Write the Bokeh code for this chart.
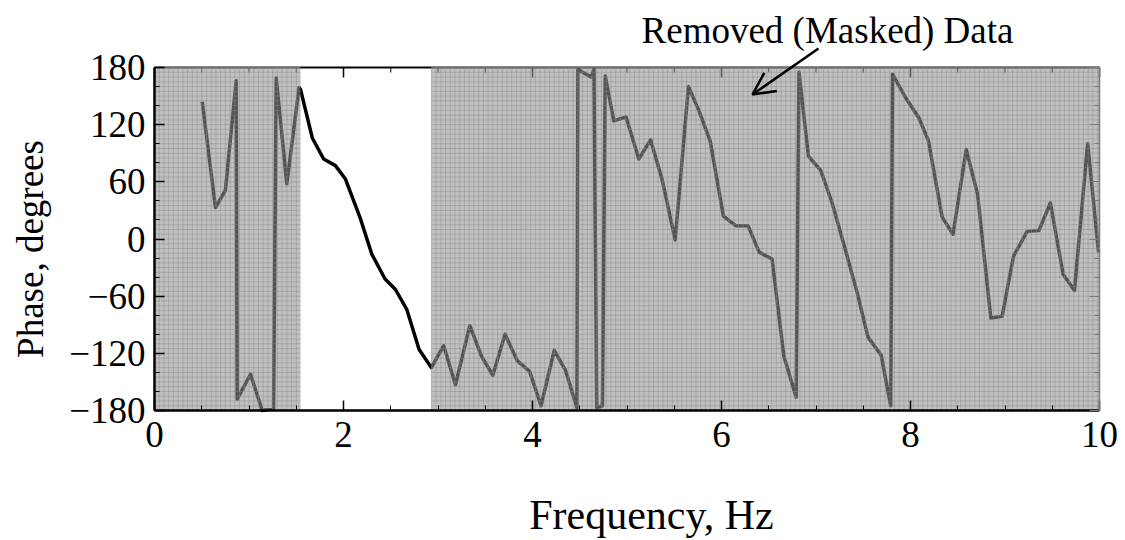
import numpy as np
from bokeh.plotting import figure
from bokeh.models import Range1d, LinearAxis, FixedTicker, Label, Arrow, OpenHead
from bokeh.embed import file_html
from bokeh.resources import INLINE

# Phase spectrum samples (Hz, degrees)
freq_hz = [0.505, 0.645, 0.75, 0.864, 0.875, 1.016, 1.14, 1.26, 1.288, 1.40, 1.53,
           1.545, 1.67, 1.79, 1.915, 2.02, 2.18, 2.30, 2.44, 2.55, 2.67, 2.80, 2.93,
           3.06, 3.185, 3.337, 3.46, 3.58, 3.71, 3.84, 3.97, 4.09, 4.23, 4.35, 4.47,
           4.48, 4.62, 4.65, 4.68, 4.74, 4.77, 4.86, 4.99, 5.125, 5.25, 5.37, 5.51,
           5.65, 5.76, 5.88, 6.02, 6.15, 6.28, 6.40, 6.535, 6.66, 6.79, 6.82, 6.92,
           7.05, 7.17, 7.31, 7.435, 7.55, 7.69, 7.79, 7.81, 7.95, 8.09, 8.19, 8.335,
           8.45, 8.59, 8.71, 8.85, 8.97, 9.09, 9.235, 9.36, 9.48, 9.615, 9.735, 9.875,
           9.99]
phase_deg = [144, 33, 51, 166, -168, -142, -180, -178, 169, 58, 159,
             157, 106, 84, 77, 63, 21, -16, -42, -53, -74, -116, -135,
             -112, -153, -91, -123, -143, -100, -128, -139, -175, -117, -138, -177,
             178, 170, 178, -177, -175, 171, 124, 128, 84, 104, 63, -1,
             160, 135, 103, 24, 14, 14, -14, -21, -123, -166, 175, 87,
             72, 38, -11, -56, -103, -122, -175, 173, 148, 127, 103, 23,
             5, 94, 47, -83, -81, -18, 8, 9, 38, -37, -54, 100,
             -14]

# Frequency bands that were removed from the analysis
mask_lo = [0.0, 2.93]
mask_hi = [1.545, 10.0]

x_major = [0, 2, 4, 6, 8, 10]
x_minor = [i * 0.5 for i in range(21)]
y_major = [-180, -120, -60, 0, 60, 120, 180]
y_minor = list(range(-180, 181, 20))

FONT = "Liberation Serif"
FS = "37px"

X_LO, X_HI = 0, 10
Y_LO, Y_HI = -180, 180

# canvas geometry: the phase window sits at px 154..1099 (x) and 67..410 (y);
# the frame spans the whole canvas so the titles can live anywhere on it
W, H = 1125, 540
WIN_L, WIN_R, WIN_T, WIN_B = 154, 1099, 67, 410
PX_X = (WIN_R - WIN_L) / (X_HI - X_LO)
PX_Y = (WIN_B - WIN_T) / (Y_HI - Y_LO)


def sx(px):
    return X_LO + (px - WIN_L) / PX_X


def sy(py):
    return Y_HI - (py - WIN_T) / PX_Y


p = figure(width=W, height=H, output_backend="svg", toolbar_location=None,
           x_range=Range1d(sx(0), sx(W)), y_range=Range1d(sy(H), sy(0)),
           min_border=0)
p.grid.visible = False
p.outline_line_color = None
p.background_fill_color = "white"
p.border_fill_color = "white"

# full phase curve
p.line(freq_hz, phase_deg, line_color="black", line_width=3.5, line_join="round")

# top edge of the window with inward ticks
maj_len = 10 / PX_Y
min_len = 5 / PX_Y
p.segment([X_LO], [Y_HI], [X_HI], [Y_HI], line_color="black", line_width=2)
p.segment(x_major, [Y_HI] * len(x_major), x_major, [Y_HI - maj_len] * len(x_major),
          line_color="black", line_width=1.5)
p.segment(x_minor, [Y_HI] * len(x_minor), x_minor, [Y_HI - min_len] * len(x_minor),
          line_color="black", line_width=1)

# masked bands: translucent grey veil plus a fine grid pattern
veil_top = Y_HI + 1.6 / PX_Y
p.quad(left=mask_lo, right=mask_hi, bottom=Y_LO, top=veil_top,
       fill_color="#909090", fill_alpha=0.57, line_color=None)
seg_x0, seg_y0, seg_x1, seg_y1 = [], [], [], []
for lo, hi in zip(mask_lo, mask_hi):
    for gx in np.arange(lo, hi + 1e-9, 0.05):
        seg_x0.append(gx); seg_x1.append(gx); seg_y0.append(Y_LO); seg_y1.append(veil_top)
    for gy in np.arange(Y_LO, Y_HI + 1e-9, 5):
        seg_x0.append(lo); seg_x1.append(hi); seg_y0.append(gy); seg_y1.append(gy)
p.segment(seg_x0, seg_y0, seg_x1, seg_y1, line_color="#8a8a8a", line_alpha=0.45,
          line_width=1)

# axes pinned to the edges of the phase window
for ax in p.xaxis:
    ax.ticker = FixedTicker(ticks=x_major, minor_ticks=x_minor)
    ax.fixed_location = Y_LO
    ax.bounds = (X_LO, X_HI)
    ax.major_label_standoff = 11
for ax in p.yaxis:
    ax.ticker = FixedTicker(ticks=y_major, minor_ticks=y_minor)
    ax.fixed_location = X_LO
    ax.bounds = (Y_LO, Y_HI)
    ax.major_label_standoff = 9

for ax in list(p.xaxis) + list(p.yaxis):
    ax.axis_line_color = "black"
    ax.axis_line_width = 2.5
    ax.major_tick_in = 10
    ax.major_tick_out = 0
    ax.minor_tick_in = 5
    ax.minor_tick_out = 0
    ax.major_tick_line_color = "black"
    ax.minor_tick_line_color = "black"
    ax.major_tick_line_width = 1.5
    ax.major_label_text_font = FONT
    ax.major_label_text_font_size = FS
    ax.major_label_text_color = "black"

right_ax = LinearAxis(ticker=FixedTicker(ticks=y_major, minor_ticks=y_minor),
                      bounds=(Y_LO, Y_HI), fixed_location=X_HI)
right_ax.axis_line_color = "#7a7a7a"
right_ax.axis_line_width = 1.5
right_ax.major_tick_in = 10
right_ax.major_tick_out = 0
right_ax.minor_tick_in = 5
right_ax.minor_tick_out = 0
right_ax.major_tick_line_color = "#7a7a7a"
right_ax.minor_tick_line_color = "#7a7a7a"
right_ax.major_label_text_font_size = "0px"
right_ax.major_label_text_alpha = 0
p.add_layout(right_ax, "right")

# axis titles
p.add_layout(Label(x=sx(30), y=sy(248.5), text="Phase, degrees", angle=np.pi / 2,
                   text_font=FONT, text_font_size="37px", text_align="center",
                   text_baseline="middle", text_color="black"))
p.add_layout(Label(x=sx(651), y=sy(514), text="Frequency, Hz",
                   text_font=FONT, text_font_size="42px", text_align="center",
                   text_baseline="middle", text_color="black"))

# annotation pointing into a masked band
p.add_layout(Label(x=sx(827), y=sy(30), text="Removed (Masked) Data",
                   text_font=FONT, text_font_size="37px", text_align="center",
                   text_baseline="middle", text_color="black"))
p.add_layout(Arrow(x_start=sx(818), y_start=sy(48), x_end=sx(752), y_end=sy(94),
                   line_color="black", line_width=2.5,
                   end=OpenHead(size=22, line_color="black", line_width=2.5)))

open("out.html", "w").write(file_html(p, INLINE))
